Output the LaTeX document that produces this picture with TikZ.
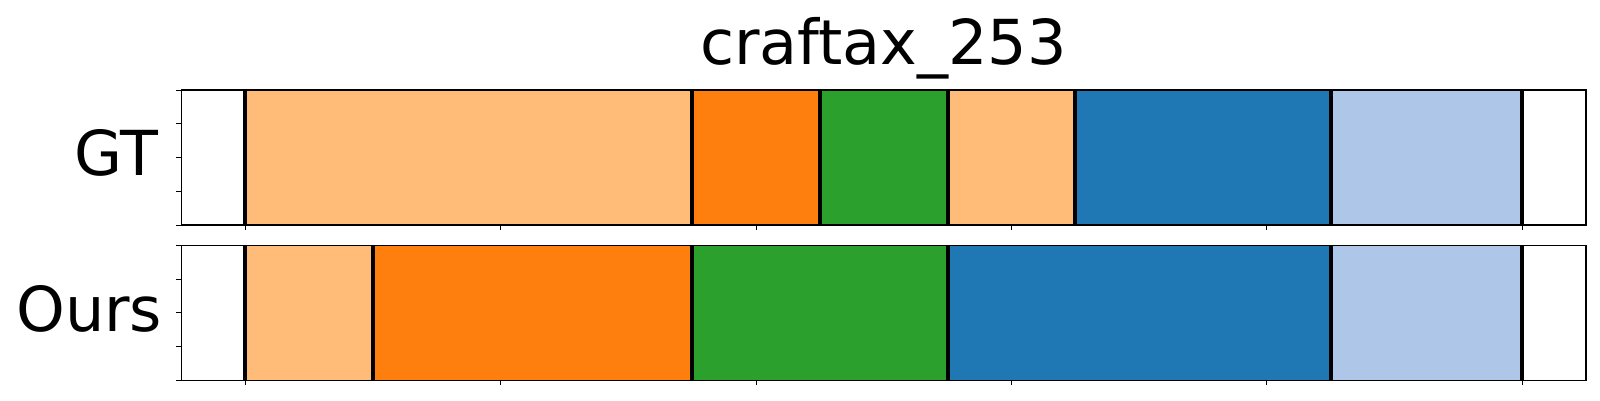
\documentclass[tikz,border=0pt]{standalone}
\usepackage{fontspec}
\setmainfont{DejaVu Sans}
\usetikzlibrary{calc}
\definecolor{lorange}{HTML}{FFBB78}
\definecolor{dorange}{HTML}{FF7F0E}
\definecolor{tgreen}{HTML}{2CA02C}
\definecolor{tblue}{HTML}{1F77B4}
\definecolor{lblue}{HTML}{AEC7E8}
\tikzset{
  spine/.style={line width=1.2pt},
  seg/.style={line width=4pt},
  tick/.style={line width=1pt},
  label/.style={inner sep=0pt,font=\fontsize{62}{70}\selectfont}
}

\begin{document}
\begin{tikzpicture}[x=1pt,y=-1pt]
\useasboundingbox (0,0) rectangle (1600,400);

\node[label,anchor=base] (title) at (883.5,64.3) {craftax\_253};
\node[label,anchor=base east] (gt) at (158.5,175) {GT};
\node[label,anchor=base east] (ours) at (162.5,331) {Ours};

\begin{scope}[shift={(245.4,0)},x=2.5535pt]
% GT row
\foreach \a/\b/\c in {0/175/lorange,175/225/dorange,225/275/tgreen,275/325/lorange,325/425/tblue,425/500/lblue}
  \fill[\c] (\a,90) rectangle (\b,225);
\foreach \b in {0,175,225,275,325,425,500}
  \draw[seg] (\b,90)--(\b,225);

% Ours row
\foreach \a/\b/\c in {0/50/lorange,50/175/dorange,175/275/tgreen,275/425/tblue,425/500/lblue}
  \fill[\c] (\a,245.3) rectangle (\b,380.3);
\foreach \b in {0,50,175,275,425,500}
  \draw[seg] (\b,245.3)--(\b,380.3);

% frames and ticks
\draw[spine] (-25,90) rectangle (525,225);
\draw[spine] (-25,245.3) rectangle (525,380.3);
\foreach \t in {0,100,...,500}{
  \draw[tick] (\t,225)--(\t,230);
  \draw[tick] (\t,380.3)--(\t,385.3);
}
\foreach \i in {0,1,2,3,4}{
  \draw[tick] (-25,90+33.75*\i)--++(-2,0);
  \draw[tick] (-25,245.3+33.75*\i)--++(-2,0);
}
\end{scope}

\end{tikzpicture}
\end{document}
